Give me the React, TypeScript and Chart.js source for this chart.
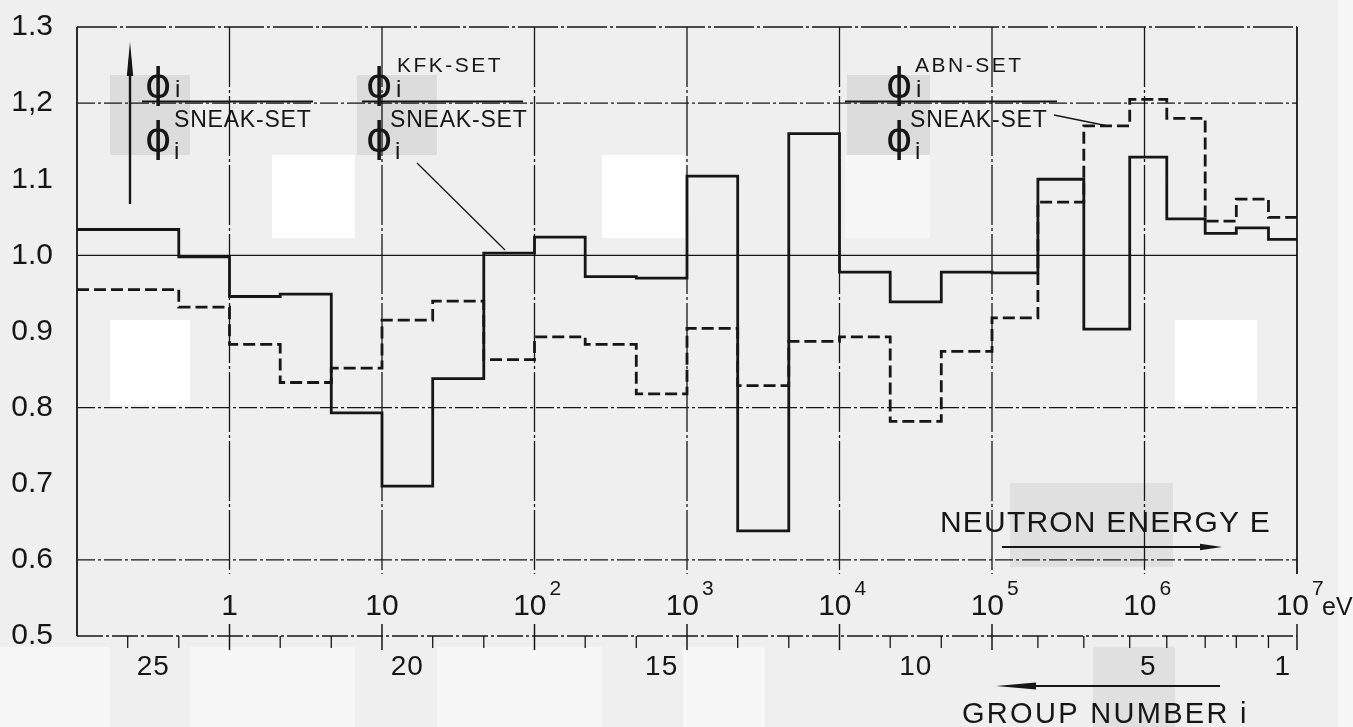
import React, { useEffect, useRef } from "react";
import { Chart, registerables } from "chart.js";

Chart.register(...registerables);

// ABN group boundaries (eV), plotted range 0.1 eV .. 10 MeV
const groupBounds = [0.1, 0.465, 1, 2.15, 4.65, 10, 21.5, 46.5, 100, 215, 465, 1000, 2150, 4650, 1e4, 2.15e4, 4.65e4, 1e5, 2e5, 4e5, 8e5, 1.4e6, 2.5e6, 4e6, 6.5e6, 1e7];
// boundaries that get a tick on the energy axis
const tickBounds = [0.215, 0.465, 1, 2.15, 4.65, 10, 21.5, 46.5, 100, 215, 465, 1000, 2150, 4650, 1e4, 2.15e4, 4.65e4, 1e5, 2e5, 4e5, 8e5, 1.4e6, 2.5e6, 4e6, 6.5e6, 1e7];
const decades = [1, 10, 100, 1000, 1e4, 1e5, 1e6, 1e7];
const decadeBase = ["1", "10", "10", "10", "10", "10", "10", "10"];
const decadeExp = ["", "", "2", "3", "4", "5", "6", "7"];

// phi_i(KFK-SET)/phi_i(SNEAK-SET), solid line
const kfkRatio = [1.034, 0.998, 0.946, 0.949, 0.793, 0.697, 0.838, 1.003, 1.024, 0.972, 0.970, 1.104, 0.638, 1.160, 0.978, 0.939, 0.978, 0.977, 1.100, 0.903, 1.129, 1.048, 1.029, 1.036, 1.021];
// phi_i(ABN-SET)/phi_i(SNEAK-SET), dashed line
const abnRatio = [0.955, 0.932, 0.883, 0.833, 0.852, 0.915, 0.940, 0.863, 0.893, 0.883, 0.818, 0.904, 0.829, 0.887, 0.893, 0.782, 0.874, 0.918, 1.070, 1.170, 1.205, 1.180, 1.045, 1.074, 1.050];

const yMin = 0.5;
const yMax = 1.3;
const yStep = 0.1;
const yGridValues = [1.2, 0.8, 0.6];
const yUnity = 1.0;

const groupLabels = ["25", "20", "15", "10", "5", "1"];
const groupLabelLow = [0.215, 10, 465, 2.15e4, 8e5, 6.5e6];
const groupLabelHigh = [0.465, 21.5, 1000, 4.65e4, 1.4e6, 1e7];

const W = 1353;
const H = 727;
const INK = "#161616";
const FONT = "'Liberation Sans', Arial, sans-serif";

function stepPoints(vals: number[]) {
  return groupBounds.map((e, i) => ({ x: e, y: vals[Math.min(i, vals.length - 1)] }));
}

function drawArrow(ctx: CanvasRenderingContext2D, x1: number, y1: number, x2: number, y2: number, headLen: number, headW: number, lw: number) {
  const ang = Math.atan2(y2 - y1, x2 - x1);
  ctx.save();
  ctx.setLineDash([]);
  ctx.strokeStyle = INK;
  ctx.fillStyle = INK;
  ctx.lineWidth = lw;
  ctx.beginPath();
  ctx.moveTo(x1, y1);
  ctx.lineTo(x2 - Math.cos(ang) * headLen * 0.5, y2 - Math.sin(ang) * headLen * 0.5);
  ctx.stroke();
  ctx.translate(x2, y2);
  ctx.rotate(ang);
  ctx.beginPath();
  ctx.moveTo(0, 0);
  ctx.lineTo(-headLen, -headW);
  ctx.lineTo(-headLen, headW);
  ctx.closePath();
  ctx.fill();
  ctx.restore();
}

function text(ctx: CanvasRenderingContext2D, s: string, x: number, y: number, size: number, align: CanvasTextAlign = "left", spacing = 0, family = FONT) {
  ctx.save();
  ctx.font = `${size}px ${family}`;
  (ctx as any).letterSpacing = `${spacing}px`;
  ctx.textAlign = align;
  ctx.textBaseline = "alphabetic";
  ctx.fillStyle = INK;
  ctx.fillText(s, x, y);
  ctx.restore();
}

function phi(ctx: CanvasRenderingContext2D, x: number, baseline: number) {
  ctx.save();
  ctx.translate(x, baseline);
  ctx.font = "40px 'DejaVu Sans', sans-serif";
  ctx.textAlign = "left";
  ctx.textBaseline = "alphabetic";
  ctx.fillStyle = INK;
  ctx.fillText("\u03D5", 0, 0);
  ctx.restore();
}

function fraction(ctx: CanvasRenderingContext2D, phiX: number, lineX1: number, lineX2: number, topSup: string, topSupX: number, denSupX: number) {
  // numerator
  phi(ctx, phiX, 97);
  text(ctx, "i", phiX + 30, 97, 24);
  if (topSup) text(ctx, topSup, topSupX, 72, 21, "left", 2.5);
  // bar
  ctx.save();
  ctx.strokeStyle = INK;
  ctx.lineWidth = 2;
  ctx.setLineDash([]);
  ctx.beginPath();
  ctx.moveTo(lineX1, 101.5);
  ctx.lineTo(lineX2, 101.5);
  ctx.stroke();
  ctx.restore();
  // denominator
  phi(ctx, phiX, 151);
  text(ctx, "i", phiX + 29, 159, 24);
  text(ctx, "SNEAK-SET", denSupX, 127, 23, "left", 0.8);
}

const decor = {
  id: "decor",
  beforeDraw(chart: any) {
    const ctx: CanvasRenderingContext2D = chart.ctx;
    ctx.save();
    ctx.fillStyle = "#efefef";
    ctx.fillRect(0, 0, W, H);
    // scan patches
    ctx.fillStyle = "#ffffff";
    ctx.fillRect(272, 155, 83, 83);
    ctx.fillRect(602, 155, 83, 83);
    ctx.fillRect(110, 320, 80, 85);
    ctx.fillRect(1175, 320, 82, 85);
    ctx.fillStyle = "#f7f7f7";
    ctx.fillRect(845, 155, 85, 83);
    ctx.fillRect(0, 647, 110, 80);
    ctx.fillRect(190, 647, 165, 80);
    ctx.fillRect(437, 647, 165, 80);
    ctx.fillRect(683, 647, 82, 80);
    ctx.fillRect(1338, 0, 15, 727);
    ctx.fillStyle = "#dcdcdc";
    ctx.fillRect(110, 75, 80, 80);
    ctx.fillRect(357, 75, 80, 80);
    ctx.fillRect(847, 75, 83, 80);
    ctx.fillStyle = "#e0e0e0";
    ctx.fillRect(1010, 483, 163, 84);
    ctx.fillRect(1093, 647, 82, 80);
    ctx.restore();
  },
  beforeDatasetsDraw(chart: any) {
    const ctx: CanvasRenderingContext2D = chart.ctx;
    const xs = chart.scales.x;
    const ys = chart.scales.y;
    const X = (v: number) => xs.getPixelForValue(v);
    const Y = (v: number) => ys.getPixelForValue(v);
    const left = X(groupBounds[0]);
    const right = X(groupBounds[groupBounds.length - 1]);
    const top = Y(yMax);
    const bottom = Y(yMin);
    const seg = (x1: number, y1: number, x2: number, y2: number, w: number, dash: number[]) => {
      ctx.beginPath();
      ctx.setLineDash(dash);
      ctx.lineWidth = w;
      ctx.moveTo(x1, y1);
      ctx.lineTo(x2, y2);
      ctx.stroke();
    };
    ctx.save();
    ctx.strokeStyle = INK;
    const dashDot = [18, 3, 3, 3];
    // horizontal grid lines
    yGridValues.forEach((v) => seg(left, Y(v), right, Y(v), 1.2, dashDot));
    seg(left, Y(yUnity), right, Y(yUnity), 1.3, []);
    // top frame
    seg(left, top, right, top, 1.6, [40, 3, 3, 3]);
    // bottom axis
    seg(left, bottom, right, bottom, 1.4, [26, 3, 3, 3]);
    // left frame
    seg(left, top, left, bottom, 1.8, []);
    // decade grid lines (incl. right frame)
    const gridEnd = Y(0.6) + 14;
    decades.forEach((d) => seg(X(d), top, X(d), gridEnd, d === 1e7 ? 1.8 : 1.3, d === 1e7 ? [] : [60, 3, 3, 3]));
    // ticks on energy axis
    tickBounds.forEach((b) => {
      const isDec = decades.indexOf(b) >= 0;
      if (isDec) seg(X(b), bottom - 12, X(b), bottom + 14, 1.5, []);
      else seg(X(b), bottom, X(b), bottom + 12, 1.3, []);
    });
    ctx.restore();
  },
  afterDatasetsDraw(chart: any) {
    const ctx: CanvasRenderingContext2D = chart.ctx;
    const xs = chart.scales.x;
    const X = (v: number) => xs.getPixelForValue(v);
    // energy decade labels
    decades.forEach((d, i) => {
      const x = X(d);
      const base = decadeBase[i];
      const exp = decadeExp[i];
      if (!exp) {
        text(ctx, base, x, 615, 30, "center");
      } else {
        text(ctx, base, x + 12, 615, 30, "right");
        text(ctx, exp, x + 15, 595, 21, "left");
        if (d === 1e7) text(ctx, "eV", x + 25, 615, 25, "left");
      }
    });
    // group number labels
    groupLabels.forEach((g, i) => {
      const x = X(Math.sqrt(groupLabelLow[i] * groupLabelHigh[i]));
      text(ctx, g, x, 675, 28, "center", 1);
    });
    // axis captions
    text(ctx, "NEUTRON ENERGY E", 940, 532, 30, "left", 1.2);
    drawArrow(ctx, 1002, 547, 1222, 547, 22, 3.2, 2.2);
    text(ctx, "GROUP NUMBER i", 962, 723, 29, "left", 2.3);
    drawArrow(ctx, 1220, 686, 996, 686, 40, 3.4, 2.2);
    // vertical arrow (ordinate)
    drawArrow(ctx, 130, 204, 130, 42, 34, 3.2, 2.4);
    // fractions
    fraction(ctx, 145, 142, 313, "", 0, 174);
    fraction(ctx, 366, 362, 523, "KFK-SET", 397, 390);
    fraction(ctx, 886, 845, 1057, "ABN-SET", 915, 910);
    // leader lines
    ctx.save();
    ctx.strokeStyle = INK;
    ctx.lineWidth = 1.3;
    ctx.setLineDash([]);
    ctx.beginPath();
    ctx.moveTo(417, 163);
    ctx.lineTo(505, 250);
    ctx.moveTo(1054, 115);
    ctx.lineTo(1108, 126);
    ctx.stroke();
    ctx.restore();
  },
};

export default function App() {
  const canvasRef = useRef<HTMLCanvasElement | null>(null);

  useEffect(() => {
    document.body.style.margin = "0";
    const canvas = canvasRef.current;
    if (!canvas) return;
    const chart = new Chart(canvas, {
      type: "line",
      data: {
        datasets: [
          {
            label: "ABN-SET / SNEAK-SET",
            data: stepPoints(abnRatio),
            stepped: "before",
            borderColor: INK,
            borderWidth: 2.8,
            borderDash: [12, 5],
            pointRadius: 0,
            fill: false,
            clip: 4,
          },
          {
            label: "KFK-SET / SNEAK-SET",
            data: stepPoints(kfkRatio),
            stepped: "before",
            borderColor: INK,
            borderWidth: 2.8,
            pointRadius: 0,
            fill: false,
            clip: 4,
          },
        ],
      },
      options: {
        responsive: false,
        animation: false,
        devicePixelRatio: 1,
        layout: { padding: { top: 27, right: 56, left: 0, bottom: 0 } },
        plugins: { legend: { display: false }, tooltip: { enabled: false } },
        scales: {
          x: {
            type: "logarithmic",
            min: groupBounds[0],
            max: groupBounds[groupBounds.length - 1],
            ticks: { display: false },
            grid: { display: false },
            border: { display: false },
            afterFit: (s: any) => {
              s.height = 91;
              s.paddingLeft = 0;
              s.paddingRight = 0;
            },
          },
          y: {
            min: yMin,
            max: yMax,
            ticks: {
              stepSize: yStep,
              padding: 24,
              color: INK,
              font: { family: FONT, size: 30 },
              callback: (v: any) => {
                const s = Number(v).toFixed(1);
                return s === "1.2" ? "1,2" : s;
              },
            },
            grid: { display: false, drawTicks: false },
            border: { display: false },
            afterFit: (s: any) => {
              s.width = 77;
              s.paddingTop = 0;
              s.paddingBottom = 0;
            },
          },
        },
      } as any,
      plugins: [decor],
    });
    return () => chart.destroy();
  }, []);

  return (
    <div style={{ width: W, height: H, position: "relative" }}>
      <canvas ref={canvasRef} width={W} height={H} style={{ display: "block" }} />
    </div>
  );
}
